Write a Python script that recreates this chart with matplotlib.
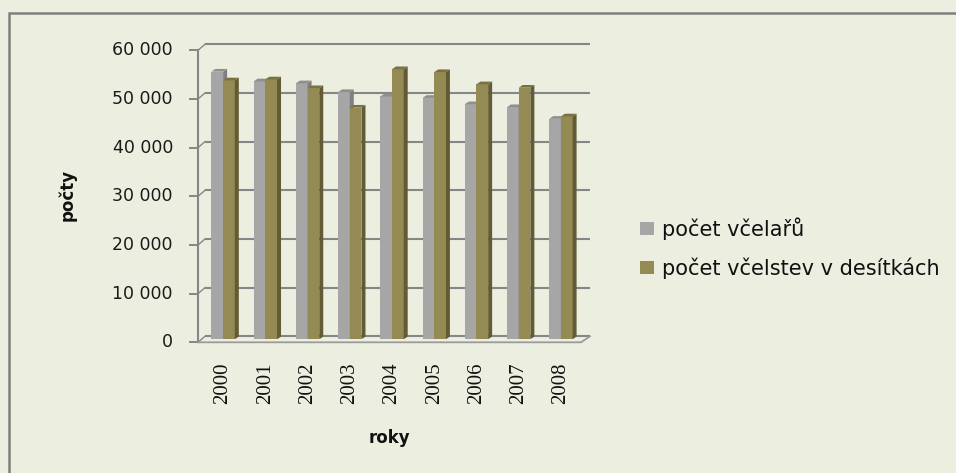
import matplotlib.pyplot as plt
from matplotlib.patches import Polygon, Patch, Rectangle

years = ['2000', '2001', '2002', '2003', '2004', '2005', '2006', '2007', '2008']
vcelari = [55000, 53000, 52600, 50800, 49900, 49600, 48300, 47700, 45300]
vcelstva = [53200, 53400, 51600, 47600, 55500, 54900, 52400, 51700, 45800]
yticks = [0, 10000, 20000, 30000, 40000, 50000, 60000]
ytick_labels = ['0', '10 000', '20 000', '30 000', '40 000', '50 000', '60 000']

plt.rcParams['font.serif'] = ['Liberation Serif', 'DejaVu Serif']

bg = '#ECEFDF'
grid_col = '#868686'
grey = ('#A6A6A6', '#7F7F7F', '#8F8F8F')     # front, side, top
olive = ('#948A54', '#625B34', '#7A7143')

W, H = 956, 473
fig = plt.figure(figsize=(W / 100, H / 100), dpi=100, facecolor=bg)

# bar plane in pixels: x 202..582, y(0)=339.3, y(60000)=47.3
left, right, y0, y1 = 202, 582, 339.3, 47.3
ax = fig.add_axes([left / W, (H - y0) / H, (right - left) / W, (y0 - y1) / H])
ax.set_xlim(-0.5, 8.5)
ax.set_ylim(0, 60000)
ax.axis('off')
ax.patch.set_alpha(0)

# one pixel in data units
PX = 9 / (right - left)
PY = 60000 / (y0 - y1)

# chart border (top / left visible)
fig.patches.append(Rectangle((8.5 / W, -0.1), 1.2, (H - 13) / H + 0.1, transform=fig.transFigure,
                             fill=False, edgecolor='#808080', linewidth=1.8))

# back wall gridlines, connectors, ticks, labels
for v, lab in zip(yticks, ytick_labels):
    ax.plot([-0.5 + 3 * PX, 8.5 + 8 * PX], [v + 3 * PY, v + 3 * PY], color=grid_col, lw=1.5,
            clip_on=False, zorder=1, solid_capstyle='butt')
    ax.plot([-0.5 - 4 * PX, -0.5 + 3 * PX], [v - 3 * PY, v + 3 * PY], color=grid_col, lw=1.0,
            clip_on=False, zorder=1)
    ax.plot([-0.5 - 12 * PX, -0.5 - 4 * PX], [v - 3 * PY, v - 3 * PY], color=grid_col, lw=1.4,
            clip_on=False, zorder=1)
    ax.text(-0.5 - 29 * PX, v - 3 * PY, lab, ha='right', va='center', fontsize=12.5,
            color='#1a1a1a', family='DejaVu Sans')

# front axis line and front floor edge
ax.plot([-0.5 - 4 * PX] * 2, [-3 * PY, 60000 - 3 * PY], color=grid_col, lw=1.5, clip_on=False, zorder=1)
ax.plot([-0.5 - 4 * PX, 8.5 - 1 * PX, 8.5 + 8 * PX], [-3 * PY, -3 * PY, 3 * PY],
        color='#9A9A9A', lw=1.3, clip_on=False, zorder=1)

bw = 0.277
dx, dy = 4 * PX, 2.7 * PY


def bar3d(x0, h, cols):
    front, side, top = cols
    ax.bar(x0, h, width=bw, align='edge', color=front, zorder=3, linewidth=0)
    ax.add_patch(Polygon([(x0 + bw, 0), (x0 + bw + dx, dy), (x0 + bw + dx, h + dy), (x0 + bw, h)],
                         closed=True, facecolor=side, edgecolor='none', zorder=3))
    ax.add_patch(Polygon([(x0, h), (x0 + dx, h + dy), (x0 + bw + dx, h + dy), (x0 + bw, h)],
                         closed=True, facecolor=top, edgecolor='none', zorder=3))


for i in range(len(years)):
    bar3d(i - bw, vcelari[i], grey)
    bar3d(i, vcelstva[i], olive)
    ax.text(i, -22.7 * PY, years[i], rotation=90, ha='center', va='top',
            fontsize=15, family='serif', color='#111111')

fig.text(389 / W, (H - 438) / H, 'roky', ha='center', va='center', fontsize=12,
         fontweight='bold', color='#111111')
fig.text(67 / W, (H - 195) / H, 'počty', ha='center', va='center', rotation=90, fontsize=12,
         fontweight='bold', color='#111111')

handles = [Patch(facecolor=grey[0], edgecolor='none'), Patch(facecolor=olive[0], edgecolor='none')]
fig.legend(handles, ['počet včelařů', 'počet včelstev v desítkách'], loc='center left',
           bbox_to_anchor=(640 / W, (H - 248) / H), frameon=False, fontsize=15,
           handlelength=0.65, handleheight=0.6, handletextpad=0.42, labelspacing=0.85,
           borderpad=0, borderaxespad=0, labelcolor='#111111')

fig.savefig('out.png', dpi=100, facecolor=bg)
